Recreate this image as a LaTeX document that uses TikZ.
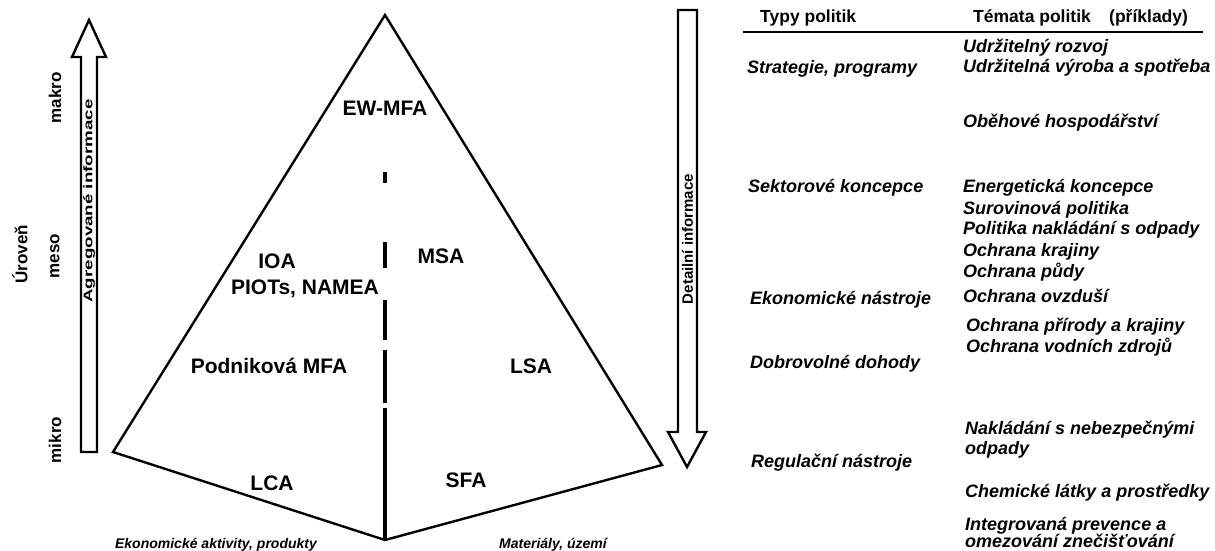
\documentclass[tikz,border=0pt]{standalone}
\usepackage{fontspec}
\setmainfont{Liberation Sans}
\begin{document}
\begin{tikzpicture}[x=1pt,y=-1pt,
  outline/.style={line width=2.4pt, line join=miter},
  divider/.style={line width=4.5pt, line cap=butt},
  lbl/.style={font=\fontsize{21}{24}\selectfont\bfseries, inner sep=0pt},
  lvl/.style={font=\fontsize{17}{20}\selectfont\bfseries, inner sep=0pt, rotate=90},
  axis/.style={font=\fontsize{14}{16}\selectfont\bfseries\itshape, inner sep=0pt},
  tbl/.style={font=\fontsize{18}{20}\selectfont\bfseries\itshape, anchor=west, inner sep=0pt},
  hdr/.style={font=\fontsize{17.5}{20}\selectfont\bfseries, anchor=west, inner sep=0pt}]
\useasboundingbox (0,0) rectangle (1215,550);
\fill[white] (0,0) rectangle (1215,550);

% left arrow (up)
\draw[outline] (81,452) -- (81,57) -- (72,57) -- (89,20) -- (106,57) -- (97,57) -- (97,452) -- cycle;
\node[inner sep=0pt, rotate=90, font=\fontsize{12.5}{14}\selectfont\bfseries] (agr) at (89,201) {\scalebox{1.5}[1]{Agregované informace}};

% right arrow (down)
\draw[outline] (678,10) -- (697,10) -- (697,432) -- (706,432) -- (687,467) -- (668,432) -- (678,432) -- cycle;
\node[inner sep=0pt, rotate=90, font=\fontsize{15}{17}\selectfont\bfseries] (det) at (687.5,239) {Detailní informace};

% level labels
\node[lvl] (uroven) at (20,254) {Úroveň};
\node[lvl] (makro) at (55,98) {makro};
\node[lvl] (meso) at (55,256) {meso};
\node[lvl] (mikro) at (55,440) {mikro};

% pyramid
\coordinate (apex) at (385,15);
\coordinate (pl) at (113,452);
\coordinate (pb) at (385,540);
\coordinate (pr) at (662,465);
\draw[outline] (apex) -- (pl) -- (pb) -- (pr) -- cycle;

% dashed divider
\draw[divider] (385,172) -- (385,183);
\draw[divider] (385,242) -- (385,268);
\draw[divider] (385,300) -- (385,340);
\draw[divider] (385,350) -- (385,403);
\draw[divider] (385,408) -- (pb);

% pyramid labels
\node[lbl] (ewmfa) at (385,108) {EW-MFA};
\node[lbl] (ioa) at (277,261) {IOA};
\node[lbl] (piot) at (305,289) {PIOTs, NAMEA};
\node[lbl] (msa) at (441,256) {MSA};
\node[lbl] (pmfa) at (269,366) {Podniková MFA};
\node[lbl] (lsa) at (531,366) {LSA};
\node[lbl] (lca) at (272,483) {LCA};
\node[lbl] (sfa) at (466,480) {SFA};

\node[axis] (ekon) at (216,545) {Ekonomické aktivity, produkty};
\node[axis] (mat) at (553,545) {Materiály, území};

% table
\node[hdr] (h1) at (760,18) {Typy politik};
\node[hdr] (h2) at (973,18) {Témata politik};
\node[hdr] (h3) at (1109,18) {(příklady)};
\coordinate (rl) at (743,32);
\coordinate (rr) at (1203,32);
\draw[line width=2pt] (rl) -- (rr);

\node[tbl] (t1) at (747,69) {Strategie, programy};
\node[tbl] (a1) at (963,48) {Udržitelný rozvoj};
\node[tbl] (a2) at (963,68) {Udržitelná výroba a spotřeba};
\node[tbl] (a3) at (963,123) {Oběhové hospodářství};

\node[tbl] (t2) at (748,188) {Sektorové koncepce};
\node[tbl] (b1) at (963,188) {Energetická koncepce};
\node[tbl] (b2) at (963,210) {Surovinová politika};
\node[tbl] (b3) at (963,230) {Politika nakládání s odpady};
\node[tbl] (b4) at (963,252) {Ochrana krajiny};
\node[tbl] (b5) at (963,272) {Ochrana půdy};
\node[tbl] (b6) at (963,296) {Ochrana ovzduší};

\node[tbl] (t3) at (750,300) {Ekonomické nástroje};
\node[tbl] (c1) at (966,327) {Ochrana přírody a krajiny};
\node[tbl] (c2) at (966,347) {Ochrana vodních zdrojů};
\node[tbl] (t4) at (750,364) {Dobrovolné dohody};

\node[tbl] (d1) at (965,430) {Nakládání s nebezpečnými};
\node[tbl] (d2) at (965,450) {odpady};
\node[tbl] (t5) at (751,463) {Regulační nástroje};
\node[tbl] (d3) at (965,493) {Chemické látky a prostředky};
\node[tbl] (d4) at (965,526) {Integrovaná prevence a};
\node[tbl] (d5) at (965,541) {omezování znečišťování};
\end{tikzpicture}
\end{document}
